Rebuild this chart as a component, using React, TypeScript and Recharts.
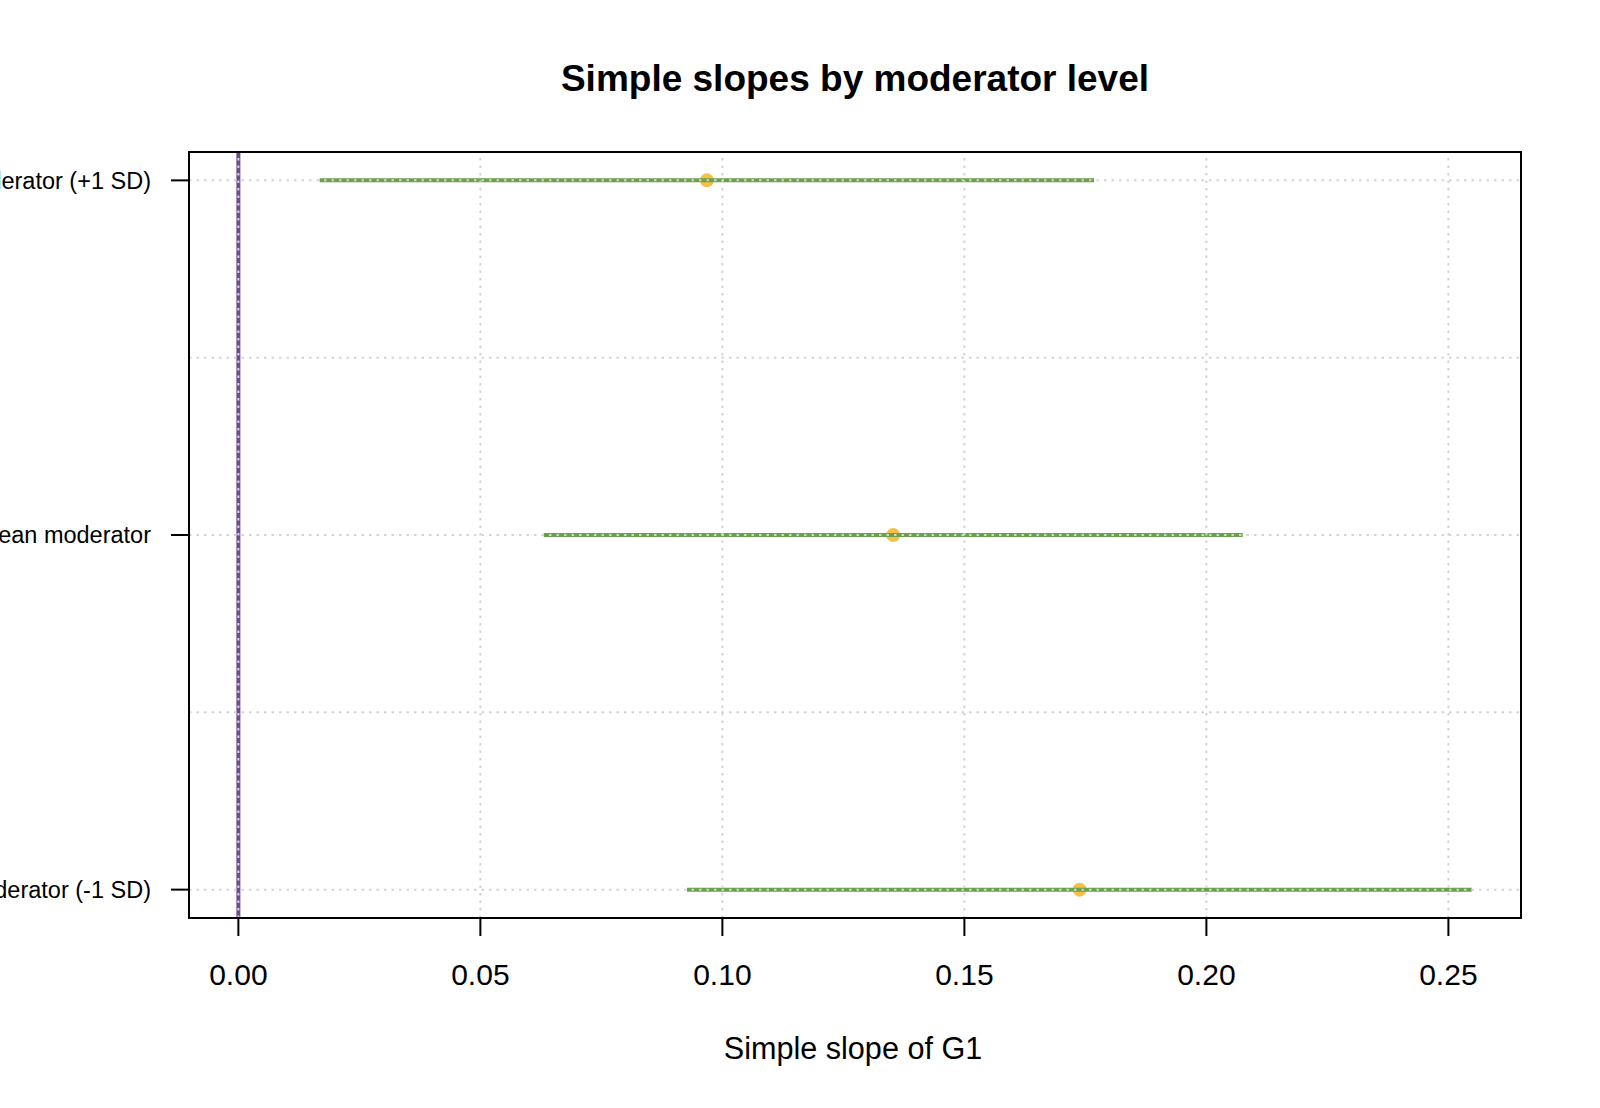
import React from 'react';
import { ScatterChart, Scatter, XAxis, YAxis } from 'recharts';

// ---- data ----
const levels = ['Low moderator (-1 SD)', 'Mean moderator', 'High moderator (+1 SD)'];
const levelPos = [1, 2, 3];
const estimates = [0.1738, 0.1353, 0.0968];
const lowerCI = [0.0927, 0.0631, 0.0168];
const upperCI = [0.2548, 0.2075, 0.1768];
const xTicks = [0, 0.05, 0.1, 0.15, 0.2, 0.25];
const yGridTicks = [1, 1.5, 2, 2.5, 3];
const refX = 0;

// ---- scales / styles ----
const X_DOMAIN: [number, number] = [-0.0102, 0.265];
const Y_DOMAIN: [number, number] = [0.92, 3.08];
const GREEN = '#6aa14a';
const GOLD = '#f4c145';
const PURPLE = '#6d4c8d';
const GRID = '#d3d3d3';
const FONT = '"Liberation Sans", Arial, Helvetica, sans-serif';

const W = 1600;
const H = 1108;
const PLOT_LEFT = 189;
const PLOT_TOP = 152;
const PLOT_RIGHT = 1521;
const PLOT_BOTTOM = 918;
const XAXIS_H = 80;

const NoShape = () => <g />;
const Dot = (props: any) => (
  <circle cx={props.cx} cy={props.cy} r={7} fill={GOLD} stroke="none" />
);

export default function App() {
  const pointData = levelPos.map((y, i) => ({ x: estimates[i], y }));
  const ciData = levelPos.map((y, i) => [
    { x: lowerCI[i], y },
    { x: upperCI[i], y },
  ]);
  const refData = [
    { x: refX, y: Y_DOMAIN[0] },
    { x: refX, y: Y_DOMAIN[1] },
  ];
  const vGrid = xTicks.map((t) => [
    { x: t, y: Y_DOMAIN[0] },
    { x: t, y: Y_DOMAIN[1] },
  ]);
  const hGrid = yGridTicks.map((t) => [
    { x: X_DOMAIN[0], y: t },
    { x: X_DOMAIN[1], y: t },
  ]);

  return (
    <div
      style={{
        position: 'absolute',
        left: 0,
        top: 0,
        width: W,
        height: H,
        background: '#fff',
        fontFamily: FONT,
        overflow: 'hidden',
      }}
    >
      <div
        style={{
          position: 'absolute',
          left: 0,
          width: 1710,
          top: 59.5,
          textAlign: 'center',
          fontSize: 37,
          lineHeight: '37px',
          fontWeight: 'bold',
          color: '#000',
          whiteSpace: 'nowrap',
        }}
      >
        Simple slopes by moderator level
      </div>
      <ScatterChart
        width={W}
        height={H}
        margin={{ top: PLOT_TOP, right: W - PLOT_RIGHT, bottom: H - PLOT_BOTTOM - XAXIS_H, left: 0 }}
      >
        <XAxis
          type="number"
          dataKey="x"
          domain={X_DOMAIN}
          allowDataOverflow
          ticks={xTicks}
          tickFormatter={(v: number) => v.toFixed(2)}
          axisLine={false}
          tickLine={{ stroke: '#000', strokeWidth: 2 }}
          tickSize={18}
          tickMargin={28}
          height={XAXIS_H}
          tick={{ fontSize: 30, fill: '#000' }}
          interval={0}
        />
        <YAxis
          type="number"
          dataKey="y"
          domain={Y_DOMAIN}
          allowDataOverflow
          ticks={levelPos}
          tickFormatter={(v: number) => levels[levelPos.indexOf(v)] ?? ''}
          axisLine={false}
          tickLine={{ stroke: '#000', strokeWidth: 2 }}
          tickSize={18}
          tickMargin={20}
          width={PLOT_LEFT}
          tick={{ fontSize: 23.5, fill: '#000' }}
          interval={0}
        />
        <Scatter
          data={refData}
          line={{ stroke: PURPLE, strokeWidth: 4 }}
          shape={NoShape}
          isAnimationActive={false}
        />
        <Scatter data={pointData} shape={Dot} isAnimationActive={false} />
        {ciData.map((d, i) => (
          <Scatter
            key={'ci' + i}
            data={d}
            line={{ stroke: GREEN, strokeWidth: 4 }}
            shape={NoShape}
            isAnimationActive={false}
          />
        ))}
        {vGrid.map((d, i) => (
          <Scatter
            key={'vg' + i}
            data={d}
            line={{ stroke: GRID, strokeWidth: 2, strokeDasharray: '2.5 5' }}
            shape={NoShape}
            isAnimationActive={false}
          />
        ))}
        {hGrid.map((d, i) => (
          <Scatter
            key={'hg' + i}
            data={d}
            line={{ stroke: GRID, strokeWidth: 2, strokeDasharray: '2.5 5' }}
            shape={NoShape}
            isAnimationActive={false}
          />
        ))}
      </ScatterChart>
      <div
        style={{
          position: 'absolute',
          left: PLOT_LEFT - 1,
          top: PLOT_TOP - 1,
          width: PLOT_RIGHT - PLOT_LEFT + 2,
          height: PLOT_BOTTOM - PLOT_TOP + 2,
          border: '2px solid #000',
          boxSizing: 'border-box',
          pointerEvents: 'none',
        }}
      />
      <div
        style={{
          position: 'absolute',
          left: PLOT_LEFT - 2,
          width: PLOT_RIGHT - PLOT_LEFT,
          top: 1033,
          textAlign: 'center',
          fontSize: 30.6,
          lineHeight: '30.6px',
          color: '#000',
          whiteSpace: 'nowrap',
        }}
      >
        Simple slope of G1
      </div>
    </div>
  );
}
